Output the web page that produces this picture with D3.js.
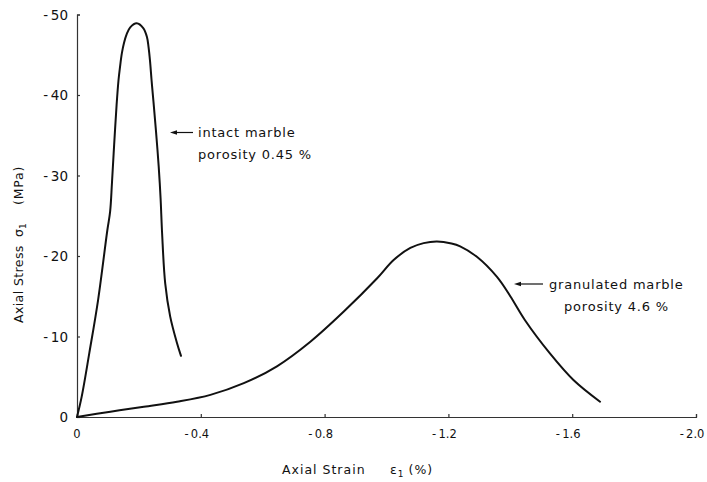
<!DOCTYPE html>
<html>
<head>
<meta charset="utf-8">
<script src="https://cdn.jsdelivr.net/npm/d3@7"></script>
<style>
  html, body { margin: 0; padding: 0; background: #fff; }
  svg { display: block; }
  text { font-family: "DejaVu Sans", sans-serif; fill: #111; }
</style>
</head>
<body>
<script>
// Stress–strain curves of marble in uniaxial compression (compression negative)
const xTicks = [0, -0.4, -0.8, -1.2, -1.6, -2.0];
const yTicks = [0, -10, -20, -30, -40, -50];

// axial strain (%) and axial stress (MPa), intact marble
const intactStrain = [0, -0.015, -0.04, -0.068, -0.098, -0.107, -0.113, -0.120, -0.128, -0.134, -0.139, -0.145, -0.152, -0.160, -0.172, -0.193, -0.214, -0.226, -0.231, -0.236, -0.241, -0.247, -0.255, -0.264, -0.270, -0.275, -0.285, -0.301, -0.323, -0.336];
const intactStress = [0, -2.5, -8, -14.5, -23.2, -25.5, -29.1, -33.8, -38.8, -41.8, -43.5, -45.2, -46.5, -47.5, -48.4, -48.9, -48.3, -47.2, -46.0, -44.2, -41.8, -39.2, -35.6, -31.1, -27.2, -22.8, -16.6, -12.5, -9.2, -7.6];

// granulated marble
const granStrain = [0, -0.108, -0.216, -0.323, -0.431, -0.539, -0.646, -0.754, -0.862, -0.969, -1.023, -1.077, -1.120, -1.163, -1.210, -1.238, -1.292, -1.357, -1.400, -1.447, -1.528, -1.604, -1.690];
const granStress = [0, -0.66, -1.28, -1.9, -2.75, -4.2, -6.3, -9.35, -13.1, -17.2, -19.5, -21.0, -21.6, -21.8, -21.55, -21.2, -19.9, -17.4, -15.0, -12.05, -7.9, -4.6, -1.9];

const W = 707, H = 482;
const svg = d3.select("body").append("svg").attr("width", W).attr("height", H);
svg.append("rect").attr("width", W).attr("height", H).attr("fill", "#fff");

const x = d3.scaleLinear().domain([0, -2.0]).range([77, 696]);
const y = d3.scaleLinear().domain([0, -50]).range([417, 14.5]);

const fmtX = d => d === 0 ? "0" : "-\u2009" + d3.format(".1f")(Math.abs(d));
const fmtY = d => d === 0 ? "0" : "-\u2009" + Math.abs(d);

// x axis
const gx = svg.append("g").attr("transform", `translate(0,${y(0)})`)
  .call(d3.axisTop(x).tickValues(xTicks).tickSize(3).tickFormat(""));
gx.select(".domain").attr("stroke", "#333").attr("stroke-width", 1.2);
gx.selectAll(".tick line").attr("stroke", "#333").attr("stroke-width", 1.2);
svg.append("g").selectAll("text").data(xTicks).join("text")
  .attr("x", d => x(d) + (d === 0 ? 0 : -4))
  .attr("y", 438)
  .attr("text-anchor", "middle")
  .attr("font-size", 11.5)
  .text(fmtX);

// y axis
const gy = svg.append("g").attr("transform", `translate(${x(0)},0)`)
  .call(d3.axisRight(y).tickValues(yTicks).tickSize(3).tickFormat(""));
gy.select(".domain").attr("stroke", "#333").attr("stroke-width", 1.2);
gy.selectAll(".tick line").attr("stroke", "#333").attr("stroke-width", 1.2);
svg.append("g").selectAll("text").data(yTicks).join("text")
  .attr("x", 68)
  .attr("y", d => y(d) + 5)
  .attr("text-anchor", "end")
  .attr("font-size", 13.5)
  .text(fmtY);

// curves
const line = d3.line()
  .x(d => x(d[0]))
  .y(d => y(d[1]))
  .curve(d3.curveCatmullRom.alpha(0.5));

svg.append("path")
  .datum(d3.zip(intactStrain, intactStress))
  .attr("d", line)
  .attr("fill", "none").attr("stroke", "#111").attr("stroke-width", 2)
  .attr("stroke-linejoin", "round").attr("stroke-linecap", "round");

svg.append("path")
  .datum(d3.zip(granStrain, granStress))
  .attr("d", line)
  .attr("fill", "none").attr("stroke", "#111").attr("stroke-width", 2)
  .attr("stroke-linejoin", "round").attr("stroke-linecap", "round");

// annotation arrows
function arrow(x1, x2, yy) {
  svg.append("line").attr("x1", x1 + 5).attr("x2", x2).attr("y1", yy).attr("y2", yy)
    .attr("stroke", "#111").attr("stroke-width", 1.2);
  svg.append("path")
    .attr("d", `M${x1},${yy} L${x1 + 7},${yy - 2.3} L${x1 + 7},${yy + 2.3} Z`)
    .attr("fill", "#111");
}
arrow(170, 193, 132.5);
arrow(514, 543, 284);

const ann = svg.append("g").attr("font-size", 13).attr("letter-spacing", 0.8);
ann.append("text").attr("x", 198).attr("y", 137).text("intact marble");
ann.append("text").attr("x", 198).attr("y", 159).text("porosity 0.45 %");
ann.append("text").attr("x", 549).attr("y", 288.5).text("granulated marble");
ann.append("text").attr("x", 564).attr("y", 311).text("porosity 4.6 %");

// axis titles
const xt = svg.append("g").attr("font-size", 12.5).attr("letter-spacing", 1);
xt.append("text").attr("x", 282).attr("y", 474).text("Axial Strain");
const xe = xt.append("text").attr("x", 390).attr("y", 474);
xe.append("tspan").text("ε");
xe.append("tspan").attr("font-size", 9).attr("dy", 3).text("1");
xe.append("tspan").attr("dy", -3).attr("dx", 4).text("(%)");

const yt = svg.append("g").attr("font-size", 12.5)
  .attr("transform", "translate(23,0) rotate(-90)");
yt.append("text").attr("x", -323).attr("y", 0).attr("letter-spacing", 0.4).text("Axial Stress");
const ys = yt.append("text").attr("x", -237).attr("y", 0);
ys.append("tspan").text("σ");
ys.append("tspan").attr("font-size", 9).attr("dy", 3).text("1");
yt.append("text").attr("x", -205).attr("y", 0).attr("letter-spacing", 0.8).text("(MPa)");
</script>
</body>
</html>
